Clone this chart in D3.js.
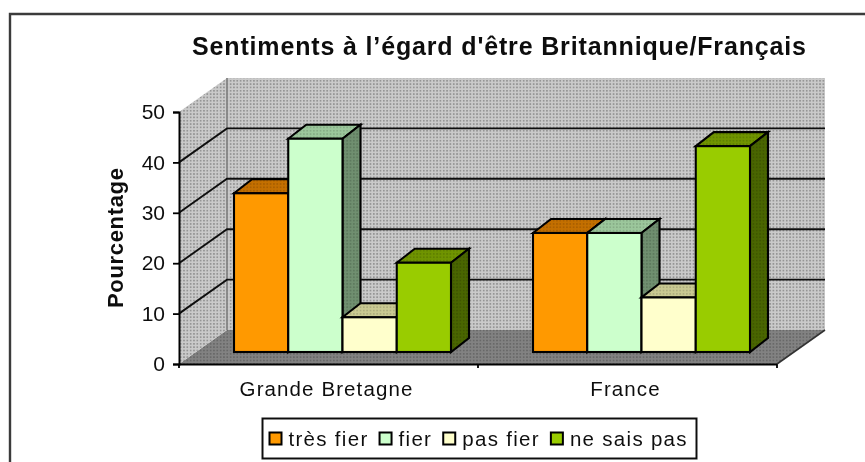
<!DOCTYPE html>
<html><head><meta charset="utf-8">
<style>
html,body{margin:0;padding:0;background:#fff;overflow:hidden}
text{font-family:"Liberation Sans",Arial,sans-serif;fill:#111}
</style>
<script src="https://cdn.jsdelivr.net/npm/d3@7"></script>
</head><body><svg id="c" width="865" height="462"></svg>
<script>
const categories = ["Grande Bretagne", "France"];
const seriesNames = ["très fier", "fier", "pas fier", "ne sais pas"];
const tresFier = [32, 24];
const fier = [43, 24];
const pasFier = [7, 11];
const neSaisPas = [18, 41.5];
const yTicks = [0, 10, 20, 30, 40, 50];
const titleText = "Sentiments à l’égard d'être Britannique/Français";
const yTitle = "Pourcentage";
const faceColors = ["#ff9900", "#ccffcc", "#ffffcc", "#99cc00"];
const topColors = ["#c46f00", "#9cc79c", "#c9c992", "#6f9400"];
const sideColors = ["#a86400", "#6f8f6f", "#a8a870", "#4a6600"];

const series = [tresFier, fier, pasFier, neSaisPas];
const svg = d3.select("#c");
const defs = svg.append("defs");
defs.append("filter").attr("id","soft")
  .attr("filterUnits","userSpaceOnUse").attr("x",0).attr("y",0).attr("width",865).attr("height",462)
  .append("feGaussianBlur").attr("stdDeviation",0.55);
function dither(id, base, dot){
  const p = defs.append("pattern").attr("id",id).attr("patternUnits","userSpaceOnUse")
    .attr("width",3.33).attr("height",3.33);
  p.append("rect").attr("width",3.33).attr("height",3.33).attr("fill",base);
  p.append("rect").attr("width",1.7).attr("height",1.7).attr("fill",dot);
}
dither("wall","#cacaca","#959595");
dither("floor","#828282","#686868");
faceColors.forEach((c,i)=>{
  dither("top"+i, topColors[i], d3.color(topColors[i]).darker(0.4));
  dither("side"+i, sideColors[i], d3.color(sideColors[i]).darker(0.45));
});

const g = svg.append("g").attr("filter","url(#soft)");

// frame (only top and left edges fall inside the picture)
g.append("path").attr("d","M10,470V14H870").attr("fill","none").attr("stroke","#3a3a3a").attr("stroke-width",2.4);

const depthX = 48, depthY = -34;
const x = d3.scaleBand().domain(categories).range([179,777]);
const y = d3.scaleLinear().domain([0,50]).range([364,112]);
// bars stand on a plane part-way into the floor
const barBaseX = 14, barDepthX = 18, barDepthY = -14;
const yBar = d3.scaleLinear().domain([0,50]).range([352,104]);
const xBar = d3.scaleBand().domain(d3.range(seriesNames.length)).range([0,217]);
const left = x.range()[0], right = x.range()[1];
const y0 = y(0), yMax = y(50);

g.append("path").attr("d",`M${left},${y0}L${left+depthX},${y0+depthY}H${right+depthX}L${right},${y0}Z`)
  .attr("fill","url(#floor)");
g.append("path").attr("d",`M${left},${y0}V${yMax}L${left+depthX},${yMax+depthY}V${y0+depthY}Z`)
  .attr("fill","url(#wall)");
g.append("rect").attr("x",left+depthX).attr("y",yMax+depthY).attr("width",right-left).attr("height",y0-yMax)
  .attr("fill","url(#wall)");
g.append("line").attr("x1",left+depthX).attr("x2",left+depthX).attr("y1",yMax+depthY).attr("y2",y0+depthY)
  .attr("stroke","#858585").attr("stroke-width",1.8);

// gridlines
g.append("g").selectAll("path").data(yTicks.filter(t=>t>0&&t<50)).join("path")
  .attr("d",t=>`M${left},${y(t)}L${left+depthX},${y(t)+depthY}H${right+depthX}`)
  .attr("fill","none").attr("stroke","#111").attr("stroke-width",1.9);

// bars
const bars = g.append("g").attr("stroke","#000").attr("stroke-width",2.1).attr("stroke-linejoin","miter");
categories.forEach((cat,ci)=>{
  const gx = x(cat) + x.bandwidth()/2 + barBaseX - xBar.range()[1]/2;
  series.forEach((vals,si)=>{
    const x0 = gx + xBar(si), x1 = x0 + xBar.bandwidth();
    const t = yBar(vals[ci]), b = yBar(0);
    const s = bars.append("g");
    s.append("path").attr("d",`M${x0},${t}L${x0+barDepthX},${t+barDepthY}H${x1+barDepthX}L${x1},${t}Z`).attr("fill",`url(#top${si})`);
    s.append("path").attr("d",`M${x1},${t}L${x1+barDepthX},${t+barDepthY}V${b+barDepthY}L${x1},${b}Z`).attr("fill",`url(#side${si})`);
    s.append("rect").attr("x",x0).attr("y",t).attr("width",x1-x0).attr("height",b-t).attr("fill",faceColors[si]);
  });
});

// axes
const axL = g.append("g").attr("transform",`translate(${left},0)`)
  .call(d3.axisLeft(y).tickValues(yTicks).tickSize(6).tickPadding(8));
axL.selectAll("text").attr("font-size",21).style("font-family",'"Liberation Sans",Arial,sans-serif');
const axB = g.append("g").attr("transform",`translate(0,${y0})`)
  .call(d3.axisBottom(x).tickSize(0).tickPadding(17));
axB.selectAll("text").attr("font-size",20.5).attr("dx",-2).style("letter-spacing","1.1px")
  .style("font-family",'"Liberation Sans",Arial,sans-serif');
g.selectAll(".domain").attr("stroke","#000").attr("stroke-width",2);
g.selectAll(".tick line").attr("stroke","#000").attr("stroke-width",1.8);
g.append("g").selectAll("line").data([left,(left+right)/2,right]).join("line")
  .attr("x1",d=>d).attr("x2",d=>d).attr("y1",y0).attr("y2",y0+4).attr("stroke","#000").attr("stroke-width",1.8);
g.append("path").attr("d",`M${right},${y0}L${right+depthX},${y0+depthY}`).attr("stroke","#333").attr("stroke-width",1.6).attr("fill","none");

// titles
g.append("text").attr("x",499).attr("y",55).attr("text-anchor","middle")
  .attr("font-size",25).attr("font-weight","bold").attr("textLength",614).attr("lengthAdjust","spacing").text(titleText);
g.append("text").attr("transform","translate(123,238) rotate(-90)").attr("text-anchor","middle")
  .attr("font-size",22).attr("font-weight","bold").attr("textLength",140).attr("lengthAdjust","spacing").text(yTitle);

// legend
const lx = 262.5, ly = 418.5, lw = 434, lh = 40;
g.append("rect").attr("x",lx).attr("y",ly).attr("width",lw).attr("height",lh)
  .attr("fill","#fff").attr("stroke","#111").attr("stroke-width",2);
let cursor = lx + 7;
seriesNames.forEach((name,i)=>{
  g.append("rect").attr("x",cursor).attr("y",ly+14).attr("width",12).attr("height",12)
    .attr("fill",faceColors[i]).attr("stroke","#000").attr("stroke-width",2);
  const t = g.append("text").attr("x",cursor+19).attr("y",ly+27).attr("font-size",20.5)
    .style("letter-spacing","1.3px").text(name);
  cursor += 19 + t.node().getComputedTextLength() + 11;
});
</script></body></html>
